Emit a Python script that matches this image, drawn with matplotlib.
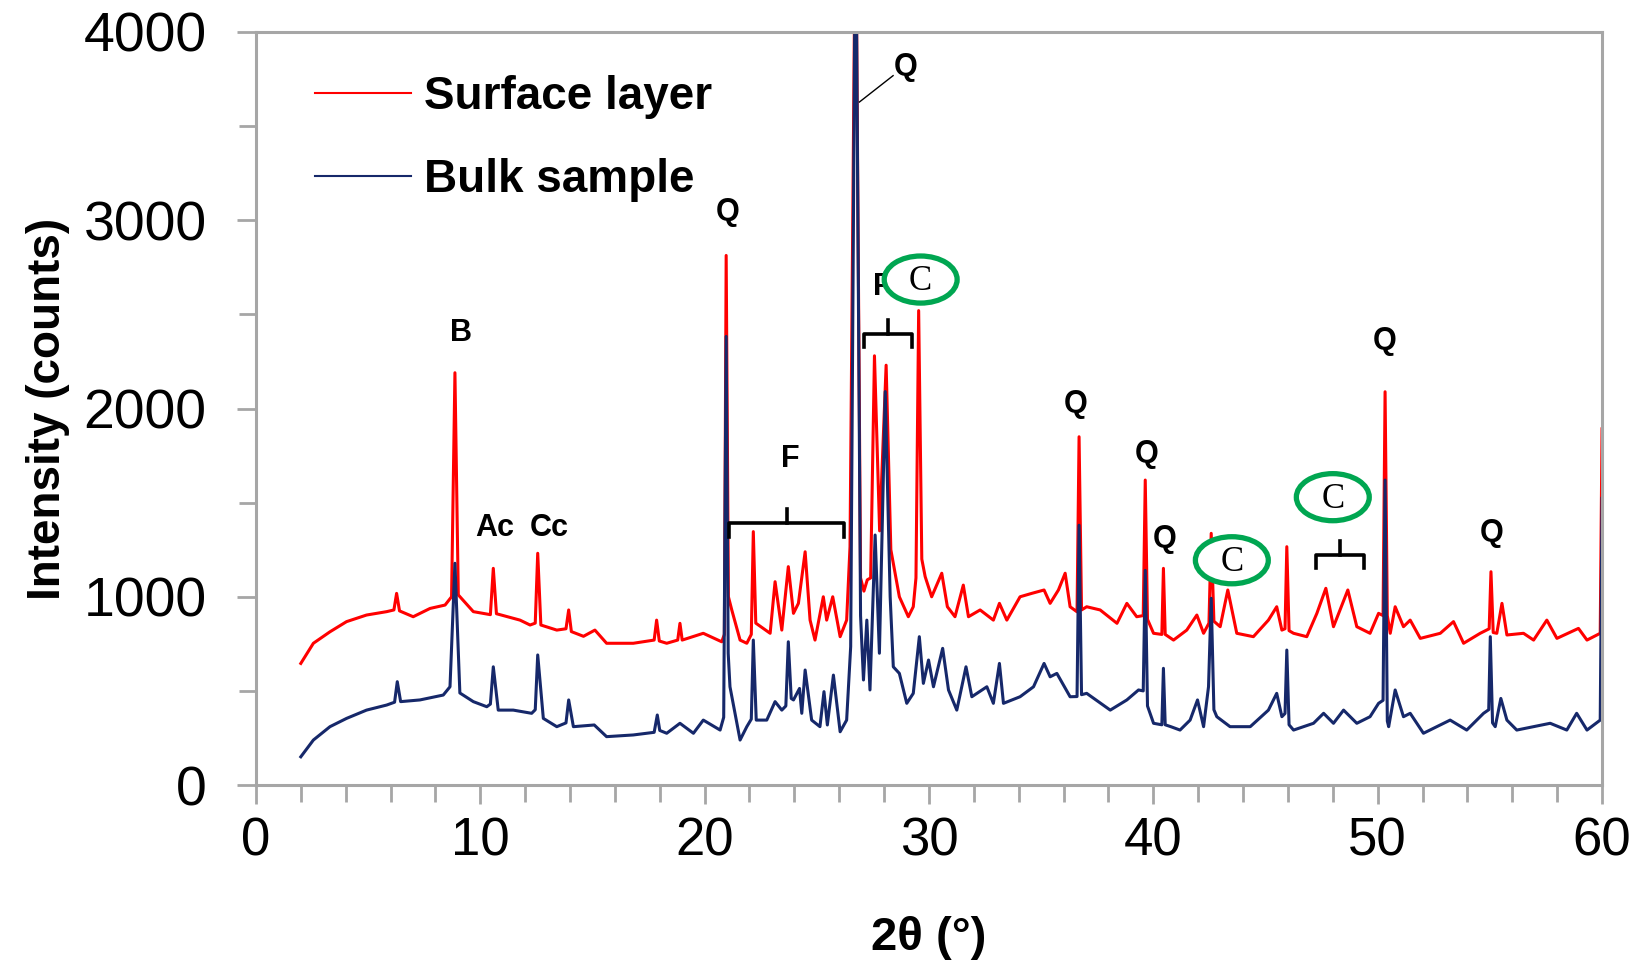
import matplotlib
matplotlib.use('Agg')
import matplotlib.pyplot as plt
from matplotlib.ticker import MultipleLocator
from matplotlib.patches import Ellipse

# surface layer pattern (2theta, counts)
surface_2theta = [2.00, 2.56, 3.30, 4.04, 4.93, 5.83, 6.15, 6.27, 6.40, 7.01, 7.76, 8.43, 8.72, 8.87, 9.02,
                  9.69, 10.45, 10.58, 10.72, 11.77, 12.22, 12.45, 12.56, 12.70, 13.41, 13.82, 13.94, 14.06,
                  14.60, 15.11, 15.63, 16.82, 17.75, 17.86, 17.98, 18.31, 18.80, 18.90, 19.00, 19.94, 20.76,
                  20.88, 20.96, 21.06, 21.21, 21.58, 21.88, 22.08, 22.17, 22.28, 22.92, 23.14, 23.44, 23.73,
                  23.96, 24.18, 24.48, 24.70, 24.92, 25.29, 25.44, 25.71, 26.04, 26.33, 26.48, 26.73, 26.95,
                  27.10, 27.25, 27.40, 27.57, 27.80, 28.09, 28.30, 28.41, 28.68, 29.08, 29.30, 29.42, 29.54,
                  29.68, 29.83, 30.12, 30.57, 30.82, 31.16, 31.53, 31.76, 32.28, 32.87, 33.14, 33.47, 34.06,
                  34.58, 35.13, 35.40, 35.77, 36.07, 36.29, 36.60, 36.69, 36.80, 37.03, 37.63, 38.38, 38.82,
                  39.26, 39.55, 39.64, 39.74, 40.01, 40.38, 40.45, 40.53, 40.90, 41.49, 41.94, 42.24, 42.48,
                  42.58, 42.70, 42.98, 43.32, 43.72, 44.46, 45.13, 45.50, 45.73, 45.87, 45.95, 46.05, 46.25,
                  46.84, 47.29, 47.69, 48.03, 48.67, 49.07, 49.66, 50.04, 50.24, 50.33, 50.43, 50.56, 50.78,
                  51.15, 51.45, 51.90, 52.79, 53.38, 53.83, 54.57, 54.97, 55.05, 55.15, 55.31, 55.54, 55.76,
                  56.50, 56.95, 57.54, 57.99, 58.95, 59.33, 59.92, 60.00]
surface_counts = [646, 753, 814, 868, 903, 921, 930, 1018, 925, 894, 938, 956, 1000, 2190, 1010,
                  921, 905, 1151, 910, 876, 850, 860, 1231, 850, 823, 830, 930, 815,
                  790, 823, 753, 753, 770, 876, 765, 753, 770, 859, 770, 806, 761,
                  800, 2813, 1000, 930, 770, 753, 800, 1346, 860, 806, 1080, 823, 1160,
                  912, 965, 1239, 876, 770, 1000, 876, 1000, 788, 876, 1266, 4800, 1100,
                  1030, 1090, 1100, 2280, 1350, 2230, 1250, 1178, 1000, 894, 947, 1100, 2520,
                  1200, 1107, 1000, 1125, 947, 894, 1062, 894, 930, 876, 965, 876, 1000,
                  1018, 1036, 965, 1036, 1125, 947, 920, 1850, 930, 947, 930, 859, 965,
                  894, 900, 1620, 880, 806, 800, 1151, 800, 770, 823, 903, 806, 860,
                  1337, 870, 841, 1036, 806, 788, 876, 947, 823, 830, 1266, 820, 806,
                  788, 912, 1045, 841, 1036, 841, 806, 912, 900, 2089, 900, 806, 947,
                  841, 876, 779, 806, 868, 753, 806, 830, 1133, 810, 806, 965, 797,
                  806, 770, 876, 779, 832, 770, 806, 1892]

# bulk sample pattern
bulk_2theta = [2.00, 2.56, 3.30, 4.04, 4.93, 5.83, 6.18, 6.30, 6.45, 7.31, 8.35, 8.65, 8.87, 9.09, 9.69,
               10.29, 10.45, 10.58, 10.80, 11.47, 12.29, 12.45, 12.56, 12.81, 13.41, 13.82, 13.94, 14.15,
               15.08, 15.63, 16.82, 17.75, 17.89, 18.00, 18.31, 18.90, 19.50, 19.94, 20.69, 20.85, 20.96,
               21.05, 21.13, 21.58, 21.88, 22.08, 22.17, 22.30, 22.77, 23.14, 23.44, 23.62, 23.73, 23.86,
               23.96, 24.23, 24.33, 24.48, 24.77, 25.14, 25.32, 25.47, 25.74, 26.04, 26.33, 26.51, 26.73,
               26.95, 27.08, 27.23, 27.37, 27.60, 27.79, 28.05, 28.27, 28.41, 28.68, 29.01, 29.30, 29.57,
               29.75, 29.98, 30.20, 30.61, 30.87, 31.24, 31.65, 31.91, 32.58, 32.87, 33.14, 33.32, 34.06,
               34.66, 35.13, 35.40, 35.70, 36.29, 36.60, 36.69, 36.80, 37.03, 38.08, 38.82, 39.34, 39.55,
               39.64, 39.74, 40.01, 40.38, 40.45, 40.53, 40.78, 41.19, 41.64, 41.97, 42.24, 42.46, 42.58,
               42.70, 42.83, 43.42, 44.32, 45.13, 45.50, 45.73, 45.87, 45.95, 46.05, 46.25, 47.14, 47.59,
               48.03, 48.48, 49.07, 49.66, 50.04, 50.24, 50.33, 50.43, 50.49, 50.78, 51.15, 51.45, 52.04,
               53.23, 53.97, 54.72, 54.95, 55.02, 55.12, 55.24, 55.49, 55.76, 56.20, 56.95, 57.69, 58.43,
               58.87, 59.33, 59.92, 60.00]
bulk_counts = [150, 239, 310, 354, 398, 425, 440, 549, 443, 452, 478, 522, 1178, 489, 443,
               416, 430, 628, 398, 398, 381, 400, 691, 354, 310, 330, 452, 310,
               319, 257, 266, 280, 372, 290, 275, 328, 275, 345, 292, 360, 2383,
               700, 522, 239, 310, 350, 770, 345, 345, 443, 398, 420, 761, 460,
               452, 513, 381, 611, 345, 310, 496, 319, 584, 283, 345, 735, 4800,
               900, 558, 876, 505, 1328, 700, 2090, 1000, 628, 593, 434, 487, 788,
               540, 664, 522, 726, 505, 398, 628, 469, 522, 434, 646, 434, 469,
               522, 646, 575, 593, 469, 470, 1380, 480, 487, 398, 452, 505, 500,
               1140, 420, 328, 320, 620, 320, 310, 292, 345, 452, 310, 522, 992,
               400, 363, 310, 310, 398, 487, 363, 380, 717, 320, 292, 328, 381,
               328, 398, 328, 363, 434, 450, 1620, 340, 310, 505, 363, 381, 275,
               345, 292, 381, 400, 788, 330, 310, 460, 345, 292, 310, 328, 292,
               381, 292, 345, 1523]

# phase labels: text, 2theta, counts
peak_labels = ['Q', 'Q', 'B', 'Ac', 'Cc', 'F', 'F', 'Q', 'Q', 'Q', 'Q', 'Q']
label_x = [28.98, 21.01, 9.16, 10.66, 13.09, 23.82, 27.94, 36.52, 39.71, 40.50, 50.29, 55.07]
label_y = [3812, 3042, 2400, 1367, 1367, 1730, 2645, 2026, 1758, 1306, 2361, 1340]

# circled calcite labels
calcite_x = [29.63, 43.50, 48.00]
calcite_y = [2685, 1194, 1529]

# brackets: start, end, level
bracket_x0 = [21.10, 27.10, 47.25]
bracket_x1 = [26.20, 29.25, 49.40]
bracket_y = [1390, 2396, 1222]

fig = plt.figure(figsize=(16.48, 9.63), dpi=100)
ax = fig.add_axes([0.1553, 0.1848, 0.8168, 0.782])

red = '#FF0000'
navy = '#16286A'
gray = '#A6A6A6'
green = '#00A651'

ax.plot(surface_2theta, surface_counts, color=red, lw=2.2, label='Surface layer')
ax.plot(bulk_2theta, bulk_counts, color=navy, lw=2.2, label='Bulk sample')

ax.set_xlim(0, 60)
ax.set_ylim(0, 4000)
ax.xaxis.set_major_locator(MultipleLocator(10))
ax.xaxis.set_minor_locator(MultipleLocator(2))
ax.yaxis.set_major_locator(MultipleLocator(1000))
ax.yaxis.set_minor_locator(MultipleLocator(500))

for s in ax.spines.values():
    s.set_color(gray)
    s.set_linewidth(2.2)

ax.tick_params(which='both', direction='out', color=gray, width=2.0)
ax.tick_params(which='major', length=13.5)
ax.tick_params(which='minor', length=12)
ax.tick_params(axis='y', labelsize=40, pad=22)
ax.tick_params(axis='x', labelsize=38, pad=9)
for t in ax.get_yticklabels() + ax.get_xticklabels():
    t.set_family('Liberation Sans')

ax.set_ylabel('Intensity (counts)', fontsize=33, fontweight='bold', family='Liberation Sans', labelpad=10)
ax.set_xlabel('2θ (°)', fontsize=34, fontweight='bold',
              family=['Liberation Sans', 'DejaVu Sans'], labelpad=36)

leg = ax.legend(loc='upper left', bbox_to_anchor=(0.191, 0.9225), bbox_transform=fig.transFigure,
                frameon=False, handlelength=2.1, handletextpad=0.28, labelspacing=0.85,
                borderpad=0, borderaxespad=0,
                prop={'family': 'Liberation Sans', 'weight': 'bold', 'size': 33})
for line in leg.get_lines():
    line.set_linewidth(1.5)

for txt, x, y in zip(peak_labels, label_x, label_y):
    ax.text(x, y, txt, ha='center', va='center', fontsize=22, fontweight='bold',
            family='Liberation Sans', zorder=4)

# leader line for the main quartz peak
ax.plot([26.9, 28.4], [3628, 3768], color='black', lw=1.0, zorder=4)

for x0, x1, y in zip(bracket_x0, bracket_x1, bracket_y):
    xc = (x0 + x1) / 2
    ax.plot([x0, x0, x1, x1], [y - 70, y, y, y - 70], color='black', lw=2.6,
            solid_joinstyle='round', zorder=4)
    ax.plot([xc, xc], [y, y + 75], color='black', lw=2.6, zorder=4)

for x, y in zip(calcite_x, calcite_y):
    ax.add_patch(Ellipse((x, y), 3.25, 250, facecolor='white', edgecolor=green, lw=3.8, zorder=5))
    ax.text(x, y - 10, 'C', ha='center', va='center', fontsize=25, family='Liberation Serif', zorder=6)

fig.savefig('out.png', dpi=100)
